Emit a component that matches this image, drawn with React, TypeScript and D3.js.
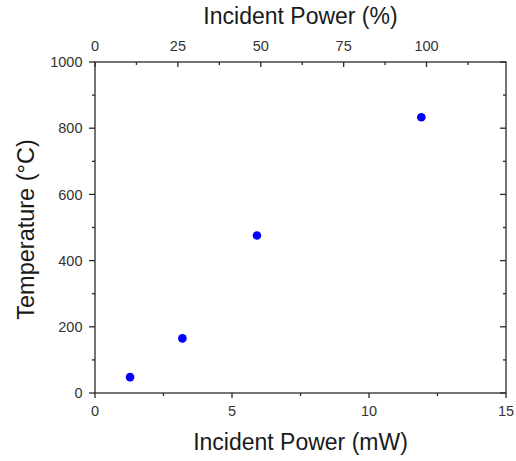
import React, { useEffect, useRef } from "react";
import * as d3 from "d3";

const powerMW = [1.28, 3.19, 5.91, 11.91];
const temperatureC = [48, 165, 476, 833];
const bottomTicks = [0, 5, 10, 15];
const bottomMinor = [2.5, 7.5, 12.5];
const topTicks = [0, 25, 50, 75, 100];
const topMinor = [12.5, 37.5, 62.5, 87.5, 112.5];
const leftTicks = [0, 200, 400, 600, 800, 1000];
const leftMinor = [100, 300, 500, 700, 900];
const fullPowerMW = 12.1; // mW at 100 %

const W = 516, H = 461;
const M = { left: 95, right: 10, top: 62, bottom: 68 };
const FONT = "'Liberation Sans', Arial, Helvetica, sans-serif";
const AX = "#2a2a2a";
const LBL = "#333";

export default function App() {
  const ref = useRef<SVGSVGElement>(null);
  useEffect(() => {
    const svg = d3.select(ref.current);
    svg.selectAll("*").remove();
    const x0 = M.left, x1 = W - M.right, y0 = H - M.bottom, y1 = M.top;
    const x = d3.scaleLinear().domain([0, 15]).range([x0, x1]);
    const xt = d3.scaleLinear().domain([0, (15 / fullPowerMW) * 100]).range([x0, x1]);
    const y = d3.scaleLinear().domain([0, 1000]).range([y0, y1]);

    const g = svg.append("g");
    // frame
    g.append("rect").attr("x", x0).attr("y", y1).attr("width", x1 - x0).attr("height", y0 - y1)
      .attr("fill", "none").attr("stroke", AX).attr("stroke-width", 1.3);

    const line = (xa: number, ya: number, xb: number, yb: number) =>
      g.append("line").attr("x1", xa).attr("y1", ya).attr("x2", xb).attr("y2", yb)
        .attr("stroke", AX).attr("stroke-width", 1.3);

    // bottom
    bottomTicks.forEach(v => {
      line(x(v), y0, x(v), y0 + 5);
      g.append("text").attr("x", x(v)).attr("y", 416).attr("text-anchor", "middle")
        .attr("font-family", FONT).attr("font-size", 14.5).attr("fill", LBL).text(String(v));
    });
    bottomMinor.forEach(v => line(x(v), y0, x(v), y0 + 3));
    // top
    topTicks.forEach(v => {
      line(xt(v), y1, xt(v), y1 + 5);
      g.append("text").attr("x", xt(v)).attr("y", 50.5).attr("text-anchor", "middle")
        .attr("font-family", FONT).attr("font-size", 14.5).attr("fill", LBL).text(String(v));
    });
    topMinor.forEach(v => line(xt(v), y1, xt(v), y1 + 3));
    // left
    leftTicks.forEach(v => {
      line(x0 - 6, y(v), x0, y(v));
      g.append("text").attr("x", 82.5).attr("y", y(v)).attr("dy", "0.36em").attr("text-anchor", "end")
        .attr("font-family", FONT).attr("font-size", 14.5).attr("fill", LBL).text(String(v));
    });
    leftMinor.forEach(v => line(x0 - 3, y(v), x0, y(v)));
    // right
    leftTicks.forEach(v => line(x1 - 6, y(v), x1, y(v)));
    leftMinor.forEach(v => line(x1 - 3, y(v), x1, y(v)));

    // titles
    const cx = (x0 + x1) / 2;
    g.append("text").attr("x", cx).attr("y", 24).attr("text-anchor", "middle")
      .attr("font-family", FONT).attr("font-size", 23).attr("fill", "#1a1a1a").text("Incident Power (%)");
    g.append("text").attr("x", cx).attr("y", 450).attr("text-anchor", "middle")
      .attr("font-family", FONT).attr("font-size", 23).attr("fill", "#1a1a1a").text("Incident Power (mW)");
    g.append("text").attr("transform", `translate(34,${(y0 + y1) / 2 + 2}) rotate(-90)`).attr("text-anchor", "middle")
      .attr("font-family", FONT).attr("font-size", 23.5).attr("fill", "#1a1a1a").text("Temperature (°C)");

    // points
    g.selectAll("circle.pt").data(powerMW.map((p, i) => [p, temperatureC[i]]))
      .enter().append("circle").attr("class", "pt")
      .attr("cx", d => x(d[0])).attr("cy", d => y(d[1])).attr("r", 4.3).attr("fill", "#0000ff");
  }, []);
  return (
    <svg ref={ref} width={W} height={H}
      style={{ position: "absolute", left: 0, top: 0, background: "#fff" }} />
  );
}
